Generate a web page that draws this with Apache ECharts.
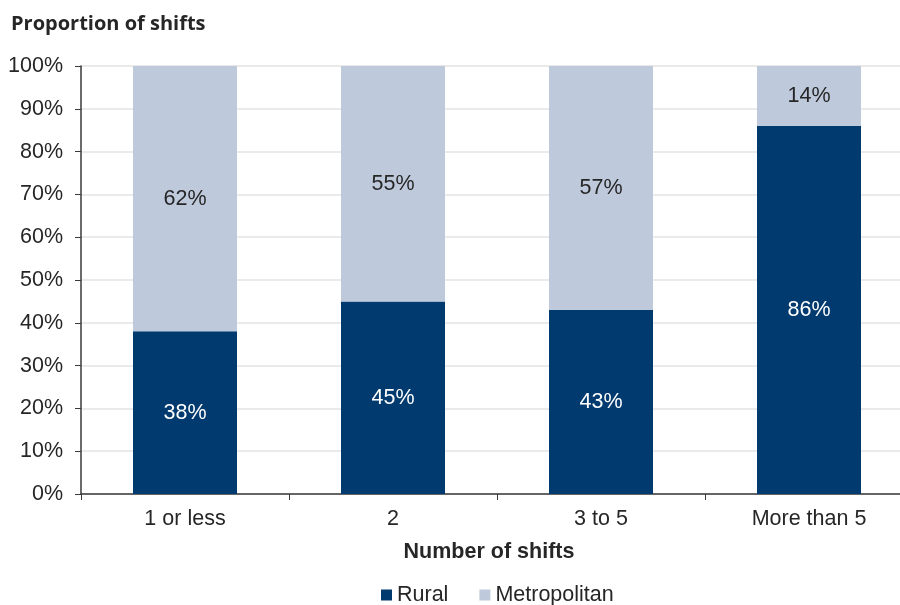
<!DOCTYPE html>
<html>
<head>
<meta charset="utf-8">
<script src="https://cdn.jsdelivr.net/npm/echarts@6/dist/echarts.min.js"></script>
<style>html,body{margin:0;padding:0;background:#fff;}#c{width:900px;height:605px;}</style>
</head>
<body>
<div id="c"></div>
<script>
const categories = ['1 or less', '2', '3 to 5', 'More than 5'];
const rural = [38, 45, 43, 86];
const metropolitan = [62, 55, 57, 14];
const yTicks = [0, 10, 20, 30, 40, 50, 60, 70, 80, 90, 100];
const yTitle = 'Proportion of shifts';
const xTitle = 'Number of shifts';

const chart = echarts.init(document.getElementById('c'), null, {renderer: 'canvas'});
const textColor = '#262626';
const font = 'Liberation Sans, Arial, sans-serif';
const fs = 21.5;

chart.setOption({
  animation: false,
  backgroundColor: '#ffffff',
  textStyle: {fontFamily: font},
  grid: {left: 81, top: 66, height: 428, width: 832, containLabel: false, outerBoundsMode: 'none'},
  graphic: [
    {type: 'text', x: 11, y: 24, style: {text: yTitle, font: 'bold 20px "Open Sans", sans-serif', fill: textColor, textVerticalAlign: 'middle', textAlign: 'left'}},
    {type: 'text', x: 489, y: 552, style: {text: xTitle, font: 'bold 21.5px "Liberation Sans", Arial, sans-serif', fill: textColor, textVerticalAlign: 'middle', textAlign: 'center'}}
  ],
  legend: {
    top: 584,
    left: 381,
    padding: 0,
    icon: 'rect',
    itemWidth: 11,
    itemHeight: 11,
    itemGap: 31,
    textStyle: {fontSize: fs, color: textColor, fontFamily: font},
    data: ['Rural', 'Metropolitan']
  },
  xAxis: {
    type: 'category',
    data: categories,
    axisLine: {lineStyle: {color: '#3a3a3a', width: 1.5}},
    axisTick: {show: true, alignWithLabel: false, length: 6, lineStyle: {color: '#3a3a3a'}},
    axisLabel: {fontSize: fs, color: textColor, margin: 14, fontFamily: font},
    splitLine: {show: false}
  },
  yAxis: {
    type: 'value',
    min: 0,
    max: 100,
    interval: 10,
    axisLine: {show: true, lineStyle: {color: '#3a3a3a', width: 1.5}},
    axisTick: {show: true, length: 6, lineStyle: {color: '#3a3a3a'}},
    axisLabel: {fontSize: fs, color: textColor, margin: 18, fontFamily: font,
      formatter: v => (yTicks.indexOf(v) >= 0 ? v + '%' : '')},
    splitLine: {show: true, lineStyle: {color: '#e3e3e3', width: 1.5}}
  },
  series: [
    {
      name: 'Rural', type: 'bar', stack: 'a', data: rural, barWidth: '50%',
      itemStyle: {color: '#003a6f'},
      label: {show: true, position: 'inside', formatter: p => p.value + '%', fontSize: fs, color: '#ffffff', fontFamily: font}
    },
    {
      name: 'Metropolitan', type: 'bar', stack: 'a', data: metropolitan, barWidth: '50%',
      itemStyle: {color: '#bec9db'},
      label: {show: true, position: 'inside', formatter: p => p.value + '%', fontSize: fs, color: textColor, fontFamily: font}
    }
  ]
});
</script>
</body>
</html>
